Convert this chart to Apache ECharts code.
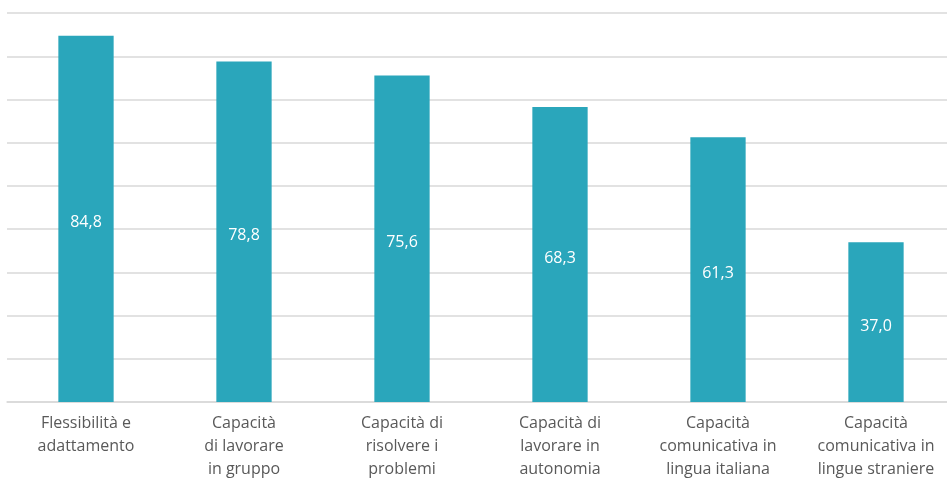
<!DOCTYPE html>
<html><head><meta charset="utf-8">
<script src="https://cdn.jsdelivr.net/npm/echarts@6/dist/echarts.min.js"></script>
<style>html,body{margin:0;padding:0;background:#fff}#c{width:947px;height:478px}</style>
</head><body><div id="c"></div>
<script>
const categories = ["Flessibilità e\nadattamento","Capacità\ndi lavorare\nin gruppo","Capacità di\nrisolvere i\nproblemi","Capacità di\nlavorare in\nautonomia","Capacità\ncomunicativa in\nlingua italiana","Capacità\ncomunicativa in\nlingue straniere"];
const values = [84.8, 78.8, 75.6, 68.3, 61.3, 37.0];
const chart = echarts.init(document.getElementById('c'), null, {renderer:'canvas'});
chart.setOption({
  animation:false,
  textStyle:{fontFamily:'"Open Sans", "Noto Sans", sans-serif'},
  grid:{left:7,width:948,top:13.2,bottom:76,containLabel:false,outerBoundsMode:'none'},
  xAxis:{type:'category',data:categories,
    axisLine:{lineStyle:{color:'#d9d9d9',width:1.5}},axisTick:{show:false},
    axisLabel:{color:'#595959',fontSize:16,lineHeight:23,margin:10,interval:0,fontFamily:'"Open Sans", sans-serif'}},
  yAxis:{type:'value',min:0,max:90,interval:10,axisLabel:{show:false},axisLine:{show:false},axisTick:{show:false},
    splitLine:{lineStyle:{color:'#d9d9d9',width:1.5}}},
  series:[{type:'bar',data:values,barWidth:'35%',itemStyle:{color:'#2aa6bb'},
    label:{show:true,position:'inside',offset:[0,4],color:'#ffffff',fontSize:16,
      formatter:p=>p.value.toFixed(1).replace('.',',')}}]
});
</script></body></html>
